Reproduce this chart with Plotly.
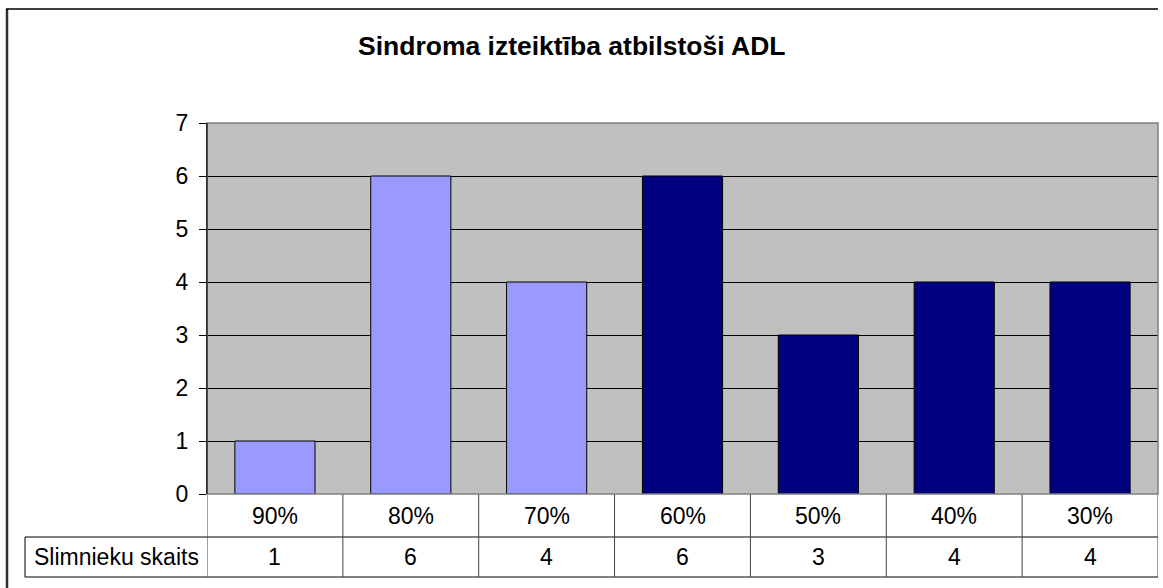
import plotly.graph_objects as go

# ---- data ----
categories = ["90%", "80%", "70%", "60%", "50%", "40%", "30%"]
values = [1, 6, 4, 6, 3, 4, 4]
bar_colors = ["#9999FF", "#9999FF", "#9999FF", "#000080", "#000080", "#000080", "#000080"]
row_label = "Slimnieku skaits"
title_text = "Sindroma izteiktība atbilstoši ADL"
y_ticks = [0, 1, 2, 3, 4, 5, 6, 7]

# ---- layout geometry (pixels) ----
W, H = 1163, 588
PL, PR, PT, PB = 207, 1158, 123, 494  # plot area edges
pw, ph = PR - PL, PB - PT


def px_x(px):
    return (px - PL) / pw


def px_y(py):
    return (PB - py) / ph


FONT = "Liberation Sans, Arial, sans-serif"
FS = 23

fig = go.Figure()
fig.add_trace(go.Bar(
    x=categories, y=values,
    marker=dict(color=bar_colors, line=dict(color="black", width=1)),
    hoverinfo="x+y",
))

shapes = []
annotations = []

# table rows
row1_bottom = 537
row2_bottom = 577
table_left = 25
n = len(categories)
for yy in (row1_bottom, row2_bottom):
    shapes.append(dict(type="line", xref="paper", yref="paper",
                       x0=px_x(table_left), x1=1, y0=px_y(yy), y1=px_y(yy),
                       line=dict(color="black", width=1)))
shapes.append(dict(type="line", xref="paper", yref="paper",
                   x0=px_x(table_left), x1=px_x(table_left),
                   y0=px_y(row1_bottom), y1=px_y(row2_bottom),
                   line=dict(color="black", width=1)))
for i in range(n + 1):
    shapes.append(dict(type="line", xref="x", yref="paper",
                       x0=i - 0.5, x1=i - 0.5, y0=0, y1=px_y(row2_bottom),
                       line=dict(color="#404040", width=1)))

for c, v in zip(categories, values):
    annotations.append(dict(x=c, xref="x", y=px_y((PB + row1_bottom) / 2), yref="paper",
                            text=c, showarrow=False, xanchor="center", yanchor="middle",
                            font=dict(family=FONT, size=FS, color="black")))
    annotations.append(dict(x=c, xref="x", y=px_y((row1_bottom + row2_bottom) / 2), yref="paper",
                            text=str(v), showarrow=False, xanchor="center", yanchor="middle",
                            font=dict(family=FONT, size=FS, color="black")))
annotations.append(dict(x=px_x((table_left + PL) / 2), xref="paper",
                        y=px_y((row1_bottom + row2_bottom) / 2), yref="paper",
                        text=row_label, showarrow=False, xanchor="center", yanchor="middle",
                        font=dict(family=FONT, size=FS, color="black")))

# title
annotations.append(dict(x=px_x(572), xref="paper", y=px_y(46), yref="paper",
                        text="<b>" + title_text + "</b>", showarrow=False,
                        xanchor="center", yanchor="middle",
                        font=dict(family=FONT, size=26.5, color="black")))

# plot area border (gray)
shapes.append(dict(type="rect", xref="paper", yref="paper", x0=0, x1=1, y0=0, y1=1,
                   line=dict(color="#808080", width=1.5), layer="above"))
shapes.append(dict(type="line", xref="paper", yref="paper", x0=0, x1=0, y0=0, y1=1,
                   line=dict(color="black", width=1), layer="above"))

# outer chart border
shapes.append(dict(type="line", xref="paper", yref="paper",
                   x0=px_x(7), x1=px_x(7), y0=px_y(9), y1=px_y(600),
                   line=dict(color="#303030", width=2.5)))
shapes.append(dict(type="line", xref="paper", yref="paper",
                   x0=px_x(6), x1=px_x(1158), y0=px_y(9), y1=px_y(9),
                   line=dict(color="black", width=1.5)))

fig.update_layout(
    width=W, height=H,
    margin=dict(l=PL, r=W - PR, t=PT, b=H - PB, pad=0),
    paper_bgcolor="white",
    plot_bgcolor="#C0C0C0",
    showlegend=False,
    bargap=0.41,
    font=dict(family=FONT, size=FS, color="black"),
    shapes=shapes,
    annotations=annotations,
    xaxis=dict(showticklabels=False, showgrid=False, zeroline=False,
               showline=False, ticks="", range=[-0.5, n - 0.5], fixedrange=True),
    yaxis=dict(range=[0, 7], tickvals=y_ticks, showgrid=True, gridcolor="black",
               gridwidth=1, zeroline=False, showline=True, linecolor="black",
               ticks="outside", ticklen=7, tickcolor="black", tickwidth=1,
               ticklabelstandoff=6,
               tickfont=dict(family=FONT, size=FS, color="black"), fixedrange=True),
)

fig.write_html("out.html",
               config={"displayModeBar": False},
               post_script="document.body.style.margin='0';document.body.style.overflow='hidden';")
